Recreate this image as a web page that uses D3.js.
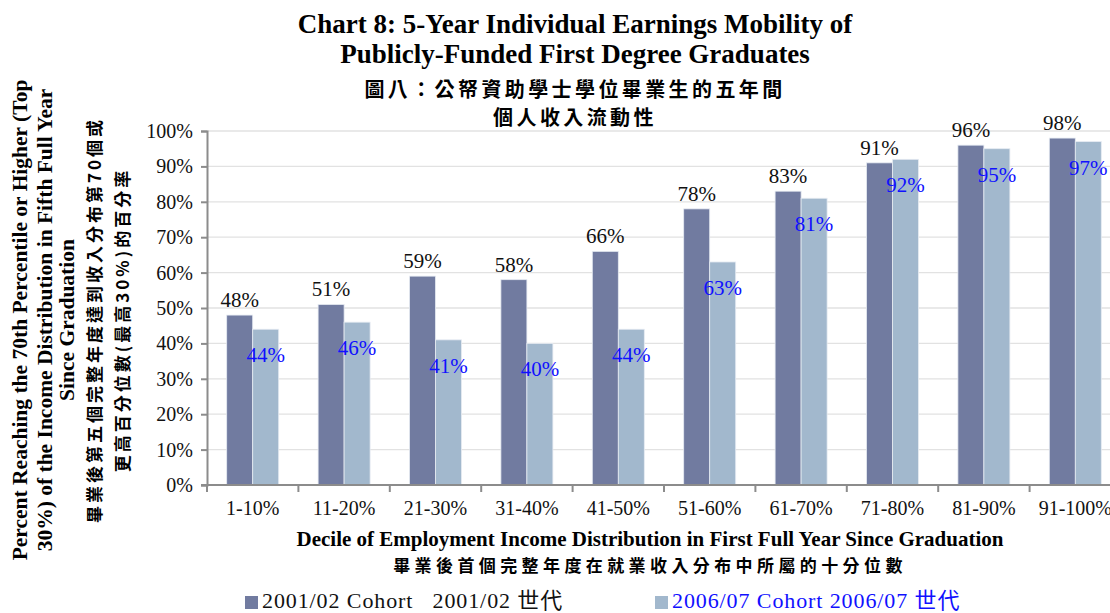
<!DOCTYPE html>
<html>
<head>
<meta charset="utf-8">
<script src="https://cdn.jsdelivr.net/npm/d3@7"></script>
<style>
  body { margin: 0; background: #fff; }
  svg { display: block; }
  text { font-family: "Liberation Serif", "Noto Sans CJK TC", serif; }
  .cjk { font-family: "Noto Sans CJK TC", sans-serif; font-weight: 700; }
</style>
</head>
<body>
<script>
// chart data
const categories = ['1-10%', '11-20%', '21-30%', '31-40%', '41-50%', '51-60%', '61-70%', '71-80%', '81-90%', '91-100%'];
const cohort0102 = [48, 51, 59, 58, 66, 78, 83, 91, 96, 98];
const cohort0607 = [44, 46, 41, 40, 44, 63, 81, 92, 95, 97];
const yTicks = [0, 10, 20, 30, 40, 50, 60, 70, 80, 90, 100];
const seriesNames = ['2001/02 Cohort   2001/02 世代', '2006/07 Cohort 2006/07 世代'];

const width = 1110, height = 613;
const plotLeft = 207, plotRight = 1121, plotTop = 131, plotBottom = 485;
const colors = ['#717ba0', '#a2b8cd'];

const svg = d3.select('body').append('svg').attr('width', width).attr('height', height);

// scales
const x = d3.scaleBand().domain(categories).range([plotLeft, plotRight]);
const xSub = d3.scaleBand().domain([0, 1]).range([19.7, x.bandwidth() - 19.7]);
const y = d3.scaleLinear().domain([0, 100]).range([plotBottom, plotTop]);

// gridlines
svg.append('g')
  .selectAll('line')
  .data(yTicks.slice(1))
  .enter()
  .append('line')
  .attr('x1', plotLeft).attr('x2', width)
  .attr('y1', (d) => y(d)).attr('y2', (d) => y(d))
  .attr('stroke', '#e2e2e2').attr('stroke-width', 1.3);

// bars
const rows = categories.map((c, i) => ({ cat: c, vals: [cohort0102[i], cohort0607[i]] }));
const groups = svg.append('g').selectAll('g')
  .data(rows)
  .enter()
  .append('g')
  .attr('transform', (d) => `translate(${x(d.cat)},0)`);

groups.selectAll('rect')
  .data((d) => d.vals.map((v, k) => ({ k, v })))
  .enter()
  .append('rect')
  .attr('x', (d) => xSub(d.k))
  .attr('y', (d) => y(d.v))
  .attr('width', xSub.bandwidth())
  .attr('height', (d) => plotBottom - y(d.v))
  .attr('fill', (d) => colors[d.k])
  .attr('stroke', '#e6ebf2').attr('stroke-width', 0.8);

// value labels
groups.append('text')
  .attr('x', xSub(0) + xSub.bandwidth() / 2)
  .attr('y', (d) => y(d.vals[0]) - 8)
  .attr('text-anchor', 'middle')
  .attr('font-size', 21)
  .attr('fill', '#111')
  .text((d) => d.vals[0] + '%');

groups.append('text')
  .attr('x', xSub(1) + xSub.bandwidth() / 2)
  .attr('y', (d) => y(d.vals[1]) + 33)
  .attr('text-anchor', 'middle')
  .attr('font-size', 21)
  .attr('fill', '#1010ff')
  .text((d) => d.vals[1] + '%');

// axes
const yAxis = d3.axisLeft(y).tickValues(yTicks).tickFormat((d) => d + '%').tickSize(6).tickPadding(8);
const gy = svg.append('g').attr('transform', `translate(${plotLeft},0)`).call(yAxis);
gy.select('.domain').attr('stroke', '#8c8c8c').attr('stroke-width', 2);
gy.selectAll('.tick line').attr('stroke', '#8c8c8c').attr('stroke-width', 2);
gy.selectAll('.tick text').attr('font-size', 20).attr('fill', '#111').attr('font-family', 'Liberation Serif');

const xAxis = d3.axisBottom(x).tickSize(0).tickPadding(16);
const gx = svg.append('g').attr('transform', `translate(0,${plotBottom})`).call(xAxis);
gx.select('.domain').attr('stroke', '#8c8c8c').attr('stroke-width', 2).attr('d', `M${plotLeft - 6},0H${width}`);
gx.selectAll('.tick text').attr('font-size', 20).attr('fill', '#111').attr('font-family', 'Liberation Serif');
// boundary ticks between categories
svg.append('g').selectAll('line')
  .data(categories)
  .enter()
  .append('line')
  .attr('x1', (d) => x(d)).attr('x2', (d) => x(d))
  .attr('y1', plotBottom).attr('y2', plotBottom + 7)
  .attr('stroke', '#8c8c8c').attr('stroke-width', 2);

// titles
const title = svg.append('g').attr('text-anchor', 'middle');
title.append('text').attr('x', 575).attr('y', 33).attr('font-size', 27).attr('font-weight', 700)
  .text('Chart 8: 5-Year Individual Earnings Mobility of');
title.append('text').attr('x', 575).attr('y', 63).attr('font-size', 27).attr('font-weight', 700)
  .text('Publicly-Funded First Degree Graduates');
title.append('text').attr('class', 'cjk').attr('x', 575).attr('y', 97).attr('font-size', 20).attr('letter-spacing', 3.4)
  .text('圖八：公帑資助學士學位畢業生的五年間');
title.append('text').attr('class', 'cjk').attr('x', 575).attr('y', 125).attr('font-size', 20).attr('letter-spacing', 3.4)
  .text('個人收入流動性');

// x axis title
svg.append('text').attr('x', 650).attr('y', 546).attr('text-anchor', 'middle')
  .attr('font-size', 21).attr('font-weight', 700)
  .text('Decile of Employment Income Distribution in First Full Year Since Graduation');
svg.append('text').attr('class', 'cjk').attr('x', 650).attr('y', 572).attr('text-anchor', 'middle')
  .attr('font-size', 17).attr('letter-spacing', 4.4)
  .text('畢業後首個完整年度在就業收入分布中所屬的十分位數');

// y axis title
const yTitle = svg.append('g').attr('transform', 'translate(0,320) rotate(-90)').attr('text-anchor', 'middle');
const yLines = [
  ['Percent Reaching the 70th Percentile or Higher (Top', 27, false],
  ['30%) of the Income Distribution in Fifth Full Year', 52, false],
  ['Since Graduation', 74, false],
  ['畢業後第五個完整年度達到收入分布第70個或', 101, true],
  ['更高百分位數(最高30%)的百分率', 129, true]
];
yLines.forEach(([t, yy, cjk]) => {
  const el = yTitle.append('text').attr('x', 0).attr('y', yy).text(t);
  if (cjk) el.attr('class', 'cjk').attr('font-size', 17).attr('letter-spacing', 3);
  else el.attr('font-size', 21.5).attr('font-weight', 700);
});

// legend
const legend = svg.append('g');
const legX = [245, 655];
seriesNames.forEach((name, i) => {
  legend.append('rect').attr('x', legX[i]).attr('y', 596).attr('width', 13).attr('height', 13).attr('fill', colors[i]);
  legend.append('text').attr('x', legX[i] + 17).attr('y', 608).attr('font-size', 22)
    .attr('letter-spacing', 0.9)
    .attr('fill', i === 0 ? '#111' : '#1010ff')
    .attr('xml:space', 'preserve').style('white-space', 'pre')
    .text(name);
});
</script>
</body>
</html>
